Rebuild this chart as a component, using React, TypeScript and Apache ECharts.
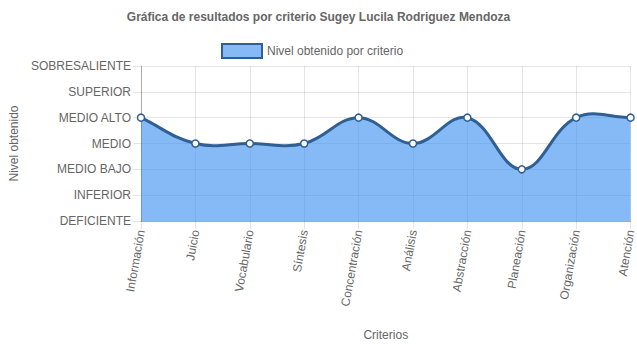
import React, { useEffect, useRef } from "react";
import * as echarts from "echarts";

const categories = ["Información", "Juicio", "Vocabulario", "Síntesis", "Concentración", "Análisis", "Abstracción", "Planeación", "Organización", "Atención"];
const levelLabels = ["DEFICIENTE", "INFERIOR", "MEDIO BAJO", "MEDIO", "MEDIO ALTO", "SUPERIOR", "SOBRESALIENTE"];
const values = [4, 3, 3, 3, 4, 3, 4, 2, 4, 4];
const seriesName = "Nivel obtenido por criterio";

const FONT = "'Liberation Sans', Arial, Helvetica, sans-serif";
const LINE = "#2f5f93";
const FILL = "rgba(54,140,240,0.6)";
const GRID = "rgba(0,0,0,0.1)";
const TENSION = 0.4;

function buildCurve(pts: number[][]) {
  // Chart.js-style spline control points
  const n = pts.length;
  const cps: { prev: number[]; next: number[] }[] = [];
  for (let i = 0; i < n; i++) {
    const p = pts[Math.max(0, i - 1)];
    const c = pts[i];
    const nx = pts[Math.min(n - 1, i + 1)];
    const d01 = Math.hypot(c[0] - p[0], c[1] - p[1]);
    const d12 = Math.hypot(nx[0] - c[0], nx[1] - c[1]);
    const sum = d01 + d12 || 1;
    const fa = (TENSION * d01) / sum;
    const fb = (TENSION * d12) / sum;
    cps.push({
      prev: [c[0] - fa * (nx[0] - p[0]), c[1] - fa * (nx[1] - p[1])],
      next: [c[0] + fb * (nx[0] - p[0]), c[1] + fb * (nx[1] - p[1])],
    });
  }
  let d = `M${pts[0][0]},${pts[0][1]}`;
  for (let i = 1; i < n; i++) {
    const a = cps[i - 1].next;
    const b = cps[i].prev;
    d += ` C${a[0]},${a[1]} ${b[0]},${b[1]} ${pts[i][0]},${pts[i][1]}`;
  }
  return d;
}

export default function App() {
  const ref = useRef<HTMLDivElement>(null);
  useEffect(() => {
    if (!ref.current) return;
    const chart = echarts.init(ref.current, null, { renderer: "svg" });
    chart.setOption({
      animation: false,
      textStyle: { fontFamily: FONT, color: "#666" },
      title: {
        text: "Gráfica de resultados por criterio Sugey Lucila Rodriguez Mendoza",
        left: "center",
        top: 11,
        padding: 0,
        textStyle: { fontFamily: FONT, fontSize: 12, fontWeight: "bold", color: "#666" },
      },
      legend: {
        top: 43,
        left: 221,
        padding: 0,
        itemWidth: 40,
        itemHeight: 14,
        itemGap: 10,
        textStyle: { fontFamily: FONT, fontSize: 12, color: "#666" },
        data: [
          {
            name: seriesName,
            icon: "rect",
            itemStyle: { color: FILL, borderColor: LINE, borderWidth: 2, opacity: 1 },
          },
        ],
      },
      grid: { left: 138, right: 3, top: 66, bottom: 127, containLabel: false },
      xAxis: {
        type: "category",
        data: categories,
        boundaryGap: false,
        name: "Criterios",
        nameLocation: "middle",
        nameGap: 108,
        nameTextStyle: { fontFamily: FONT, fontSize: 12, color: "#666" },
        axisLine: { show: true, lineStyle: { color: "rgba(0,0,0,0.25)", width: 1 } },
        axisTick: { show: true, length: 8, alignWithLabel: true, lineStyle: { color: GRID } },
        splitLine: { show: true, lineStyle: { color: GRID } },
        axisLabel: { rotate: 80, margin: 9, fontFamily: FONT, fontSize: 12, color: "#666" },
      },
      yAxis: {
        type: "value",
        min: 0,
        max: 6,
        interval: 1,
        name: "Nivel obtenido",
        nameLocation: "middle",
        nameGap: 121,
        nameRotate: 90,
        nameTextStyle: { fontFamily: FONT, fontSize: 12, color: "#666" },
        axisLine: { show: true, lineStyle: { color: "rgba(0,0,0,0.25)", width: 1 } },
        axisTick: { show: true, length: 8, lineStyle: { color: GRID } },
        splitLine: { show: true, lineStyle: { color: GRID } },
        axisLabel: {
          margin: 10,
          fontFamily: FONT,
          fontSize: 12,
          color: "#666",
          formatter: (v: number) => levelLabels[v] ?? "",
        },
      },
      series: [
        {
          name: "curve",
          type: "custom",
          z: 2,
          silent: true,
          data: values.map((v, i) => [i, v]),
          renderItem: (params: any, api: any) => {
            if (params.dataIndex !== 0) return null;
            const pts = values.map((v, i) => api.coord([i, v]));
            const base = api.coord([0, 0])[1];
            const curve = buildCurve(pts);
            const last = pts[pts.length - 1];
            const area = `${curve} L${last[0]},${base} L${pts[0][0]},${base} Z`;
            return {
              type: "group",
              children: [
                { type: "path", shape: { pathData: area }, style: { fill: FILL, stroke: "none" } },
                { type: "path", shape: { pathData: curve }, style: { fill: "none", stroke: LINE, lineWidth: 3 } },
              ],
            };
          },
        },
        {
          name: seriesName,
          type: "line",
          z: 3,
          data: values,
          symbol: "circle",
          symbolSize: 7,
          showSymbol: true,
          lineStyle: { color: LINE, width: 0, opacity: 0 },
          itemStyle: { color: "#fff", borderColor: LINE, borderWidth: 1.5 },
        },
      ],
    });
    return () => chart.dispose();
  }, []);
  return <div ref={ref} style={{ width: 637, height: 348, position: "absolute", left: 0, top: 0 }} />;
}
